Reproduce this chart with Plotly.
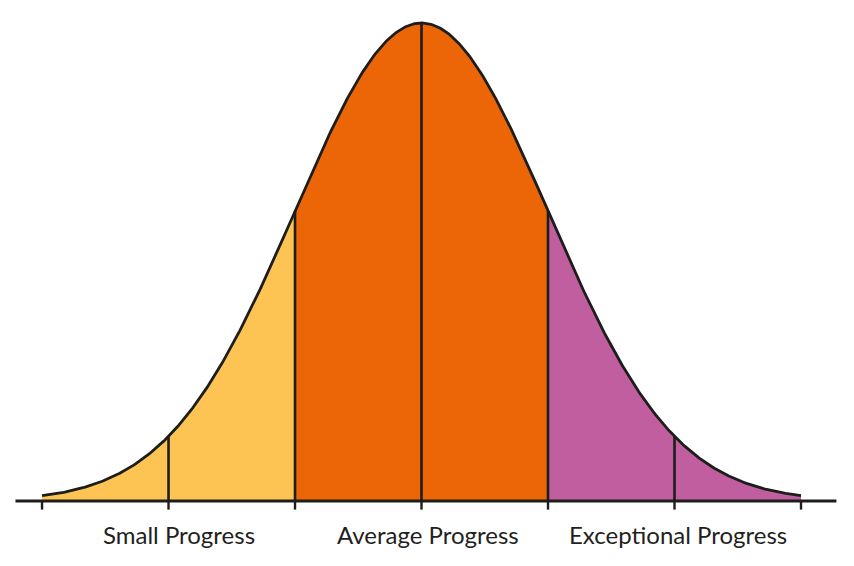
import numpy as np
import plotly.graph_objects as go

# Data: standard deviations along the bell curve
region_bounds = [-3, -1, 1, 3]
region_colors = ["#FDC453", "#EC6608", "#C05E9F"]
divider_sigmas = [-2, -1, 0, 1, 2]
tick_sigmas = [-3, -2, -1, 0, 1, 2, 3]
label_texts = ["Small Progress", "Average Progress", "Exceptional Progress"]
label_x = [-1.92, 0.05, 2.03]

LINE = "#1d1d1b"

def bell(x):
    return np.exp(-0.5 * np.asarray(x, dtype=float) ** 2)

fig = go.Figure()

for i, col in enumerate(region_colors):
    xs = np.linspace(region_bounds[i], region_bounds[i + 1], 200)
    fig.add_trace(go.Scatter(
        x=np.concatenate([[xs[0]], xs, [xs[-1]]]),
        y=np.concatenate([[0], bell(xs), [0]]),
        fill="toself", fillcolor=col, mode="none",
        hoverinfo="skip", showlegend=False))

# dividers
for s in divider_sigmas:
    fig.add_trace(go.Scatter(x=[s, s], y=[0, float(bell(s))], mode="lines",
                             line=dict(color=LINE, width=2.6),
                             hoverinfo="skip", showlegend=False))

# curve
xc = np.linspace(region_bounds[0], region_bounds[-1], 600)
fig.add_trace(go.Scatter(x=xc, y=bell(xc), mode="lines",
                         line=dict(color=LINE, width=2.8),
                         hoverinfo="skip", showlegend=False))

shapes = [dict(type="line", x0=-3.21, x1=3.28, y0=0, y1=0,
               line=dict(color=LINE, width=3), layer="above")]
for s in tick_sigmas:
    shapes.append(dict(type="line", x0=s, x1=s, y0=0, y1=-0.018,
                       line=dict(color=LINE, width=2.4), layer="above"))

annotations = [dict(x=x, y=-0.071, text=t, showarrow=False, xanchor="center",
                    yanchor="middle",
                    font=dict(family="Lato", size=24, color="#231f20"))
               for x, t in zip(label_x, label_texts)]

fig.update_layout(
    width=846, height=558,
    margin=dict(l=0, r=0, t=0, b=0),
    paper_bgcolor="white", plot_bgcolor="white",
    xaxis=dict(range=[-3.269, 3.419], visible=False, fixedrange=True),
    yaxis=dict(range=[-0.136, 1.0314], visible=False, fixedrange=True),
    shapes=shapes, annotations=annotations,
)

fig.write_html("out.html")
